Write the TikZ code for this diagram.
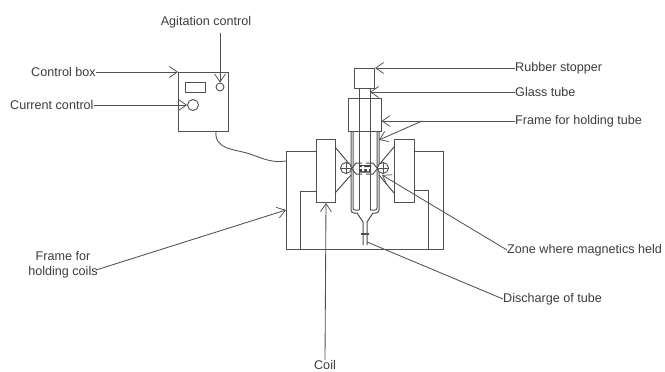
\documentclass[tikz,border=0pt]{standalone}
\usepackage{fontspec}
\setmainfont{Liberation Sans}
\usetikzlibrary{arrows.meta}
\definecolor{ink}{HTML}{505050}
\definecolor{txt}{HTML}{3C3C3C}
\tikzset{
  ln/.style={draw=ink,line width=1pt},
  partbox/.style={draw=ink,line width=1pt,inner sep=0pt,anchor=north west},
  knob/.style={draw=ink,line width=0.9pt,circle,inner sep=0pt},
  lead/.style={draw=ink,line width=0.85pt,-{Straight Barb[length=8pt,width=11pt,line width=0.75pt]}},
  lbl/.style={text=txt,font=\fontsize{12.6}{15}\selectfont,inner sep=0pt,align=center},
}
\begin{document}
\begin{tikzpicture}[x=1pt,y=-1pt]
\useasboundingbox (0,0) rectangle (665,372);
% frame for coils
\draw[ln] (316,151) -- (286,151) -- (286,249) -- (443,249) -- (443,151) -- (414,151);
\draw[ln] (316,191) -- (300,191) -- (300,249);
\draw[ln] (414,190) -- (428,190) -- (428,249);
% coils
\node[partbox,minimum width=19pt,minimum height=63pt] (coilL) at (316,139) {};
\node[partbox,minimum width=20pt,minimum height=63pt] (coilR) at (394,139) {};
% tube
\draw[ln] (351,131) -- (351,210) arc[start angle=180,end angle=90,x radius=3pt,y radius=-3pt] -- (357,213) -- (363,222) -- (363,245);
\draw[ln] (379,131) -- (379,210) arc[start angle=0,end angle=90,x radius=3pt,y radius=-3pt] -- (373,213) -- (367,222) -- (367,245);
\draw[ln,rounded corners=2pt] (353,131) -- (353,210) -- (359,210) (377,131) -- (377,210) -- (370,210);
\draw[ln] (359,88) -- (359,210) (370,88) -- (370,210);
\node[partbox,minimum width=33pt,minimum height=33pt] (frameT) at (348,98) {};
\node[partbox,fill=white,minimum width=20pt,minimum height=20pt] (stopper) at (354,68) {};
\draw[ln,line width=1.5pt] (361,234) -- (369,234);
% magnetics
\draw[ln] (335,147) -- (351,166) (335,193) -- (351,175);
\draw[ln] (394,147) -- (378,166) (394,193) -- (379,175);
\node[knob,fill=white,minimum size=11pt] (mL) at (346,168) {};
\node[knob,fill=white,minimum size=11pt] (mR) at (383,168) {};
\draw[ln,line width=.8pt] (340.5,168) -- (351.5,168) (346,162.5) -- (346,173.5);
\draw[ln,line width=.8pt] (377.5,168) -- (388.5,168) (383,162.5) -- (383,173.5);
\draw[ln] (352,168) -- (356,163) -- (362,163) (377,168) -- (373,163) -- (366,163);
\draw[ln] (352,169) -- (356,174) -- (362,174) (377,169) -- (373,174) -- (366,174);
\fill[ink!85!black] (359,165) rectangle (371,167) (359,169) rectangle (371,172.5);
\fill[white] (362,166) rectangle (364,171) (367,169) rectangle (369,171);
% control box
\node[partbox,minimum width=50pt,minimum height=59pt] (box) at (178,72) {};
\node[partbox,line width=.9pt,minimum width=20pt,minimum height=10pt] (disp) at (185,82) {};
\node[knob,minimum size=8pt] (agit) at (220,87) {};
\node[knob,minimum size=11pt] (curr) at (193,105) {};
\draw[ln,line width=.85pt] (216,131) .. controls (214,150) and (235,149) .. (250,154) .. controls (264,159) and (272,163) .. (286,161);
% labels
\node[lbl] (tAgit) at (206,22) {Agitation control};
\node[lbl,anchor=west] (tBox) at (31,72) {Control box};
\node[lbl,anchor=west] (tCurr) at (10,105) {Current control};
\node[lbl,anchor=west] (tRub) at (515,68) {Rubber stopper};
\node[lbl,anchor=west] (tGlass) at (515,92) {Glass tube};
\node[lbl,anchor=west] (tFrame) at (515,121) {Frame for holding tube};
\node[lbl,anchor=west] (tZone) at (507,250) {Zone where magnetics held};
\node[lbl,anchor=west] (tDis) at (503,299) {Discharge of tube};
\node[lbl] (tCoils) at (63,265) {Frame for\\holding coils};
\node[lbl] (tCoil) at (325,365) {Coil};
% leaders
\coordinate (agitStart) at (220,33);
\coordinate (j) at (422,121);
\coordinate (glassTip) at (370,92);
\coordinate (frameTip) at (381.5,121);
\coordinate (legTip) at (379,140);
\coordinate (zoneTip) at (382,175);
\coordinate (disTip) at (367,242);
\coordinate (coilsStart) at (96,270);
\coordinate (coilsTip) at (286,210);
\draw[lead] (agitStart) -- (agit.north);
\draw[lead] (tBox.east) -- (box.north west);
\draw[lead] (tCurr.east) -- (curr.west);
\draw[lead] (tRub.west) -- (stopper.north east);
\draw[lead] (tGlass.west) -- (glassTip);
\draw[lead] (tFrame.west) -- (frameTip);
\draw[lead] (j) -- (legTip);
\draw[lead] (tZone.west) -- (zoneTip);
\draw[ln,line width=.85pt] (tDis.west) -- (disTip);
\draw[lead] (tCoil.north) -- (coilL.south);
\draw[lead] (coilsStart) -- (coilsTip);
\end{tikzpicture}
\end{document}
